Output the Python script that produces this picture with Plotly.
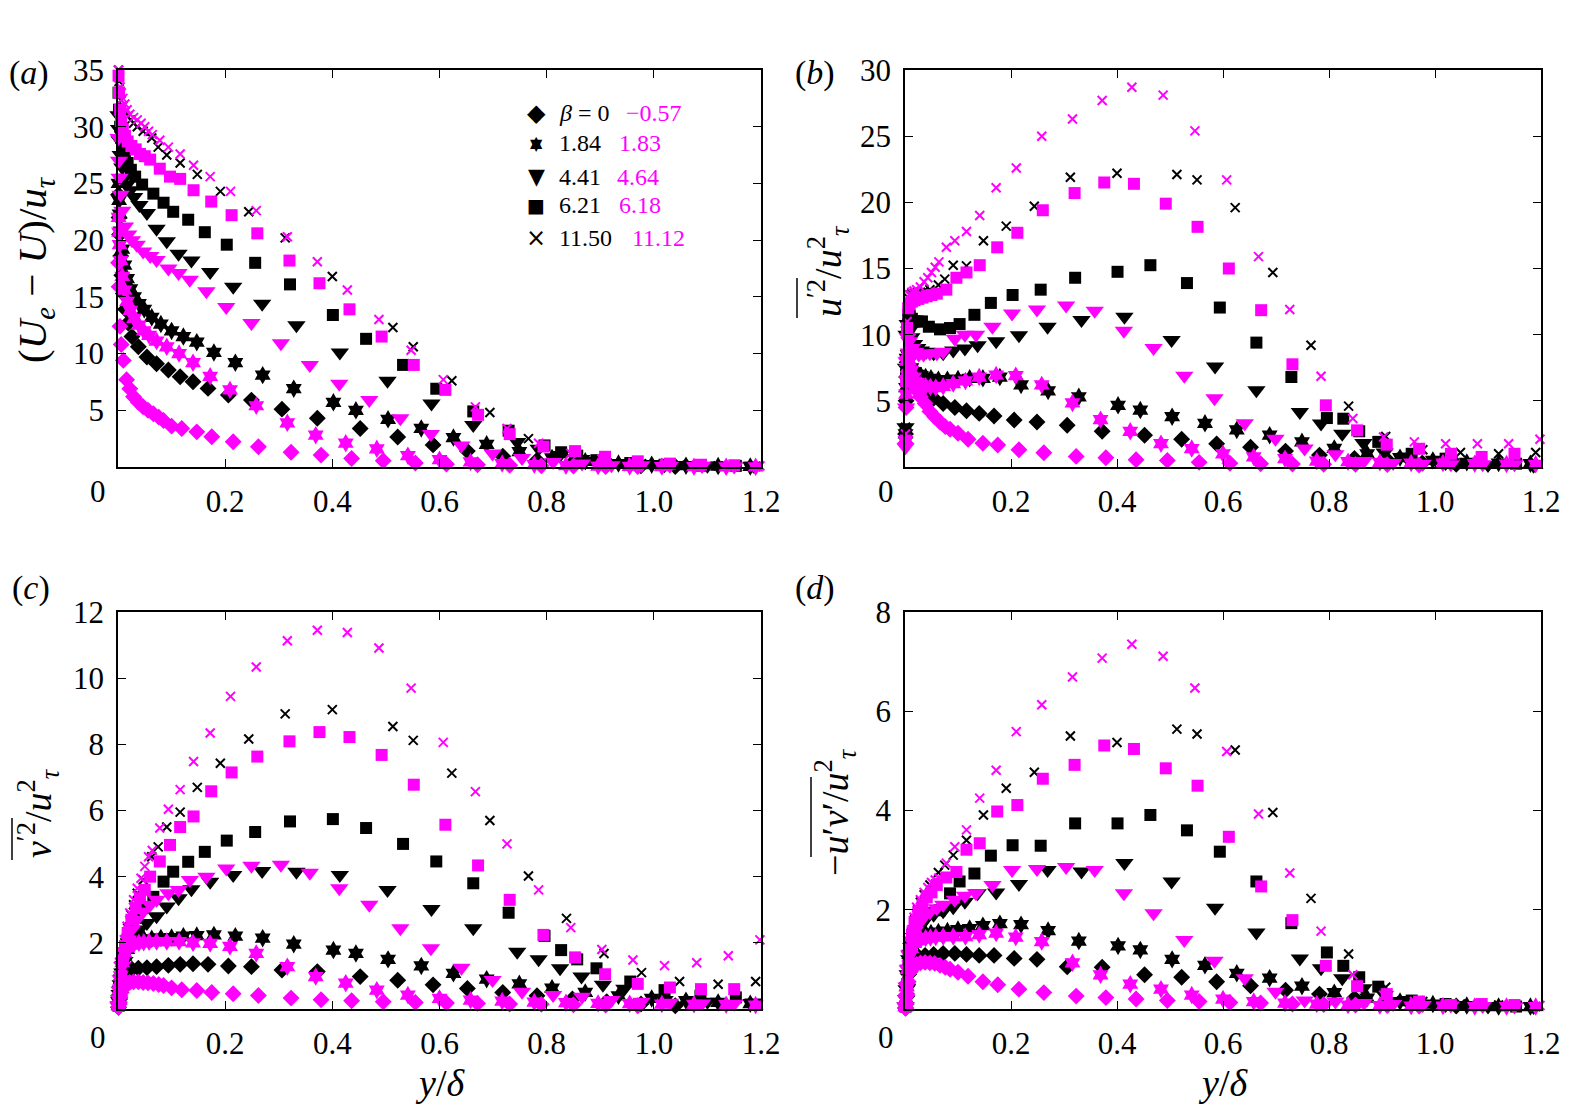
import plotly.graph_objects as go

W, H = 1572, 1105
BLACK = "#000000"
MAGENTA = "#ff00ff"
SERIF = "Liberation Serif"

# ---- data: y/delta positions and profiles, one set per case ----
# black diamond, beta = 0
K0_x = [0.001, 0.002, 0.003, 0.005, 0.007, 0.010, 0.014, 0.019, 0.026, 0.038,
        0.054, 0.072, 0.094, 0.116, 0.140, 0.168, 0.206, 0.249, 0.306, 0.372,
        0.452, 0.522, 0.588, 0.652, 0.718, 0.782, 0.848, 0.912, 0.976, 1.04]
K0_a = [24.0, 22.0, 20.5, 18.6, 16.9, 15.3, 13.9, 12.7, 11.5, 10.6,
        9.7, 9.1, 8.55, 7.96, 7.52, 6.93, 6.35, 5.9, 5.1, 4.3,
        3.4, 2.65, 1.95, 1.4, 0.95, 0.6, 0.35, 0.2, 0.1, 0.05]
K0_b = [2.5, 5.0, 6.8, 7.6, 7.3, 6.8, 6.3, 6.0, 5.7, 5.4,
        5.2, 4.8, 4.5, 4.25, 4.05, 3.85, 3.55, 3.4, 3.15, 2.7,
        2.4, 2.1, 1.75, 1.5, 1.2, 0.9, 0.65, 0.45, 0.3, 0.2]
K0_c = [0.05, 0.15, 0.3, 0.55, 0.75, 0.9, 1.05, 1.15, 1.2, 1.23,
        1.25, 1.28, 1.32, 1.35, 1.37, 1.35, 1.3, 1.28, 1.18, 1.13,
        0.98, 0.87, 0.73, 0.62, 0.5, 0.4, 0.3, 0.22, 0.15, 0.1]
K0_d = [0.02, 0.1, 0.25, 0.5, 0.7, 0.85, 0.95, 1.0, 1.05, 1.08,
        1.1, 1.12, 1.12, 1.1, 1.08, 1.08, 1.02, 1.0, 0.85, 0.84,
        0.69, 0.64, 0.55, 0.47, 0.38, 0.3, 0.22, 0.15, 0.1, 0.06]

# magenta diamond, beta = -0.57
M0_x = [0.001, 0.002, 0.0037, 0.006, 0.010, 0.016, 0.022, 0.029, 0.038, 0.047,
        0.056, 0.066, 0.076, 0.085, 0.100, 0.119, 0.147, 0.175, 0.215, 0.262,
        0.323, 0.379, 0.436, 0.495, 0.555, 0.613, 0.671, 0.731, 0.79, 0.85,
        0.91, 0.97]
M0_a = [18.0, 15.9, 12.4, 10.8, 9.4, 7.7, 6.9, 6.2, 5.7, 5.3,
        5.0, 4.7, 4.4, 4.1, 3.6, 3.4, 3.1, 2.67, 2.23, 1.79,
        1.3, 1.05, 0.75, 0.55, 0.35, 0.25, 0.2, 0.15, 0.1, 0.08,
        0.05, 0.03]
M0_b = [1.8, 4.5, 6.8, 7.2, 6.8, 6.2, 5.8, 5.3, 4.8, 4.2,
        3.8, 3.4, 3.05, 2.85, 2.55, 2.1, 1.8, 1.66, 1.3, 1.08,
        0.8, 0.7, 0.55, 0.5, 0.35, 0.28, 0.25, 0.22, 0.2, 0.2,
        0.18, 0.15]
M0_c = [0.05, 0.15, 0.35, 0.5, 0.65, 0.75, 0.8, 0.82, 0.82, 0.8,
        0.79, 0.77, 0.74, 0.71, 0.64, 0.58, 0.56, 0.5, 0.46, 0.41,
        0.33, 0.28, 0.25, 0.22, 0.2, 0.18, 0.17, 0.15, 0.14, 0.13,
        0.12, 0.1]
M0_d = [0.02, 0.1, 0.3, 0.55, 0.75, 0.85, 0.9, 0.93, 0.94, 0.93,
        0.92, 0.88, 0.84, 0.8, 0.74, 0.66, 0.55, 0.49, 0.4, 0.33,
        0.26, 0.23, 0.2, 0.17, 0.15, 0.13, 0.12, 0.1, 0.09, 0.08,
        0.07, 0.06]

# black hexagram, beta = 1.84
K1_x = [0.001, 0.002, 0.003, 0.005, 0.008, 0.012, 0.017, 0.023, 0.030, 0.039,
        0.049, 0.063, 0.080, 0.100, 0.122, 0.147, 0.179, 0.219, 0.270, 0.328,
        0.402, 0.444, 0.504, 0.566, 0.626, 0.688, 0.749, 0.81, 0.872, 0.934,
        0.996, 1.06, 1.12, 1.18]
K1_a = [25.0, 23.5, 22.3, 20.8, 19.2, 17.8, 16.6, 15.7, 15.0, 14.4,
        13.9, 13.2, 12.6, 12.0, 11.5, 11.0, 10.1, 9.2, 8.1, 6.9,
        5.7, 5.0, 4.2, 3.4, 2.6, 2.0, 1.35, 0.8, 0.5, 0.3,
        0.2, 0.12, 0.08, 0.05]
K1_b = [2.5, 6.0, 8.2, 8.5, 8.0, 7.5, 7.2, 7.0, 6.9, 6.8,
        6.7, 6.6, 6.6, 6.65, 6.7, 6.7, 6.8, 6.2, 5.75, 5.3,
        4.66, 4.3, 3.8, 3.3, 2.8, 2.4, 1.9, 1.4, 1.0, 0.7,
        0.5, 0.35, 0.3, 0.25]
K1_c = [0.1, 0.3, 0.55, 0.9, 1.3, 1.6, 1.8, 1.95, 2.03, 2.08,
        2.1, 2.12, 2.15, 2.16, 2.2, 2.22, 2.24, 2.2, 2.14, 1.96,
        1.78, 1.68, 1.5, 1.3, 1.08, 0.9, 0.76, 0.63, 0.5, 0.4,
        0.32, 0.25, 0.2, 0.16]
K1_d = [0.05, 0.2, 0.45, 0.8, 1.1, 1.3, 1.42, 1.48, 1.5, 1.52,
        1.53, 1.55, 1.57, 1.6, 1.62, 1.68, 1.72, 1.7, 1.58, 1.37,
        1.27, 1.19, 1.0, 0.88, 0.72, 0.62, 0.46, 0.33, 0.22, 0.15,
        0.1, 0.07, 0.05, 0.05]

# magenta hexagram, beta = 1.83
M1_x = [0.001, 0.002, 0.003, 0.005, 0.008, 0.012, 0.017, 0.023, 0.030, 0.039,
        0.048, 0.058, 0.072, 0.091, 0.114, 0.140, 0.172, 0.209, 0.258, 0.316,
        0.369, 0.425, 0.483, 0.541, 0.600, 0.658, 0.717, 0.777, 0.836, 0.896,
        0.955, 1.015, 1.075, 1.135, 1.19]
M1_a = [22.0, 20.7, 19.6, 18.2, 16.8, 15.6, 14.6, 13.8, 13.1, 12.5,
        12.0, 11.6, 11.1, 10.6, 10.0, 9.2, 8.0, 6.8, 5.4, 3.9,
        2.8, 2.1, 1.6, 1.0, 0.65, 0.45, 0.3, 0.2, 0.12, 0.08,
        0.05, 0.04, 0.03, 0.02, 0.02]
M1_b = [2.0, 5.5, 8.0, 8.6, 8.0, 7.3, 6.8, 6.4, 6.2, 6.1,
        6.05, 6.0, 6.1, 6.3, 6.5, 6.8, 6.95, 6.9, 6.2, 4.84,
        3.58, 2.7, 1.76, 1.39, 1.0, 0.76, 0.63, 0.45, 0.4, 0.35,
        0.3, 0.3, 0.25, 0.22, 0.2]
M1_c = [0.1, 0.3, 0.6, 1.0, 1.4, 1.7, 1.85, 1.93, 1.97, 2.0,
        2.02, 2.03, 2.04, 2.04, 2.04, 2.0, 1.98, 1.89, 1.68, 1.28,
        0.98, 0.78, 0.57, 0.42, 0.32, 0.27, 0.24, 0.21, 0.19, 0.17,
        0.16, 0.15, 0.14, 0.13, 0.12]
M1_d = [0.05, 0.2, 0.45, 0.8, 1.05, 1.22, 1.32, 1.38, 1.41, 1.43,
        1.44, 1.45, 1.46, 1.46, 1.46, 1.5, 1.53, 1.45, 1.36, 0.93,
        0.69, 0.5, 0.4, 0.28, 0.2, 0.15, 0.12, 0.1, 0.08, 0.07,
        0.06, 0.06, 0.05, 0.05, 0.05]

# black triangle, beta = 4.41
K2_x = [0.001, 0.002, 0.003, 0.005, 0.008, 0.012, 0.017, 0.023, 0.030, 0.040,
        0.054, 0.072, 0.091, 0.113, 0.137, 0.172, 0.215, 0.269, 0.333, 0.414,
        0.503, 0.585, 0.663, 0.745, 0.785, 0.825, 0.865, 0.905, 0.945, 1.02,
        1.10, 1.186]
K2_a = [31.0, 29.8, 28.8, 27.5, 26.4, 25.5, 24.9, 24.4, 23.8, 23.1,
        22.4, 21.0, 19.9, 18.8, 18.2, 17.2, 15.9, 14.4, 12.5, 10.1,
        7.6, 5.6, 3.7, 2.2, 1.6, 1.05, 0.7, 0.45, 0.3, 0.15,
        0.12, 0.1]
K2_b = [3.0, 7.5, 10.0, 10.8, 10.3, 9.8, 9.3, 9.0, 8.8, 8.7,
        8.6, 8.6, 8.8, 8.95, 9.2, 9.5, 9.96, 10.6, 11.1, 11.35,
        9.6, 7.6, 5.8, 4.16, 3.28, 2.52, 1.82, 1.1, 0.8, 0.3,
        0.15, 0.1]
K2_c = [0.1, 0.25, 0.45, 0.75, 1.1, 1.45, 1.75, 2.0, 2.2, 2.4,
        2.6, 2.8, 3.1, 3.35, 3.62, 3.85, 4.05, 4.17, 4.15, 4.05,
        3.6, 3.02, 2.44, 1.73, 1.5, 1.23, 0.98, 0.73, 0.61, 0.27,
        0.22, 0.2]
K2_d = [0.05, 0.2, 0.4, 0.7, 1.0, 1.25, 1.45, 1.6, 1.72, 1.82,
        1.9, 1.97, 2.05, 2.16, 2.33, 2.35, 2.52, 2.8, 2.77, 2.94,
        2.57, 2.04, 1.54, 1.02, 0.82, 0.62, 0.42, 0.28, 0.18, 0.08,
        0.05, 0.04]

# magenta triangle, beta = 4.64
M2_x = [0.001, 0.002, 0.003, 0.005, 0.008, 0.013, 0.019, 0.026, 0.035, 0.047,
        0.060, 0.072, 0.094, 0.113, 0.134, 0.165, 0.202, 0.249, 0.304, 0.358,
        0.413, 0.469, 0.527, 0.584, 0.641, 0.699, 0.754, 0.812, 0.866, 0.921,
        0.977, 1.03, 1.09, 1.15]
M2_a = [29.0, 27.0, 25.5, 24.0, 22.6, 21.2, 20.5, 20.0, 19.6, 19.0,
        18.6, 18.25, 17.5, 17.1, 16.5, 15.5, 14.1, 12.7, 10.9, 9.0,
        7.35, 5.9, 4.3, 2.9, 1.9, 1.2, 0.8, 0.45, 0.3, 0.15,
        0.15, 0.1, 0.08, 0.05]
M2_b = [1.5, 4.5, 8.0, 9.8, 9.5, 9.0, 8.7, 8.5, 8.5, 8.6,
        8.6, 8.7, 9.7, 10.0, 10.0, 10.6, 11.6, 11.9, 12.2, 11.8,
        10.3, 9.0, 6.9, 5.2, 3.3, 2.14, 1.4, 0.96, 0.45, 0.3,
        0.25, 0.2, 0.2, 0.2]
M2_c = [0.1, 0.3, 0.55, 0.9, 1.3, 1.75, 2.1, 2.4, 2.7, 2.95,
        3.15, 3.3, 3.5, 3.6, 3.9, 4.0, 4.25, 4.33, 4.36, 4.12,
        3.65, 3.15, 2.44, 1.84, 1.25, 0.88, 0.52, 0.42, 0.37, 0.27,
        0.22, 0.19, 0.17, 0.16]
M2_d = [0.05, 0.2, 0.45, 0.8, 1.1, 1.38, 1.58, 1.72, 1.85, 1.95,
        2.03, 2.1, 2.2, 2.28, 2.33, 2.5, 2.8, 2.82, 2.86, 2.8,
        2.33, 1.93, 1.39, 0.97, 0.62, 0.35, 0.17, 0.15, 0.12, 0.1,
        0.08, 0.07, 0.06, 0.05]

# black square, beta = 6.21
K3_x = [0.001, 0.002, 0.004, 0.006, 0.009, 0.013, 0.018, 0.024, 0.032, 0.045,
        0.066, 0.085, 0.103, 0.131, 0.162, 0.203, 0.256, 0.321, 0.401, 0.463,
        0.532, 0.594, 0.663, 0.729, 0.796, 0.827, 0.857, 0.893, 0.956, 1.02,
        1.087, 1.153]
K3_a = [33.0, 31.5, 30.0, 29.0, 28.2, 27.5, 26.8, 26.2, 25.6, 24.9,
        24.1, 23.3, 22.5, 21.8, 20.7, 19.6, 18.0, 16.1, 13.4, 11.3,
        9.0, 6.9, 4.9, 3.2, 1.9, 1.3, 1.0, 0.6, 0.35, 0.2,
        0.12, 0.1]
K3_b = [2.5, 7.0, 10.5, 11.5, 11.4, 11.2, 11.0, 11.0, 11.0, 10.6,
        10.4, 10.5, 10.8, 11.5, 12.4, 13.0, 13.4, 14.3, 14.75, 15.25,
        13.9, 12.05, 9.4, 6.8, 3.7, 3.65, 2.7, 1.9, 1.0, 0.63,
        0.4, 0.25]
K3_c = [0.1, 0.3, 0.6, 0.95, 1.35, 1.75, 2.1, 2.45, 2.75, 3.05,
        3.39, 3.85, 4.15, 4.45, 4.75, 5.09, 5.35, 5.67, 5.74, 5.47,
        4.99, 4.46, 3.8, 2.91, 2.21, 1.78, 1.5, 1.23, 0.83, 0.57,
        0.4, 0.35]
K3_d = [0.05, 0.2, 0.5, 0.8, 1.1, 1.35, 1.55, 1.7, 1.82, 1.93,
        1.99, 2.33, 2.57, 2.73, 3.09, 3.3, 3.29, 3.74, 3.74, 3.91,
        3.6, 3.17, 2.57, 1.73, 1.14, 0.87, 0.64, 0.45, 0.17, 0.1,
        0.08, 0.05]

# magenta square, beta = 6.18
M3_x = [0.001, 0.002, 0.004, 0.006, 0.009, 0.013, 0.018, 0.025, 0.033, 0.041,
        0.050, 0.060, 0.078, 0.097, 0.116, 0.141, 0.174, 0.212, 0.260, 0.32,
        0.376, 0.432, 0.492, 0.552, 0.611, 0.672, 0.731, 0.794, 0.853, 0.909,
        0.97, 1.03, 1.088, 1.15]
M3_a = [34.5, 33.0, 31.5, 30.5, 29.8, 29.2, 28.7, 28.3, 28.0, 27.6,
        27.4, 27.1, 26.3, 25.6, 25.4, 24.4, 23.4, 22.2, 20.6, 18.2,
        16.2, 13.9, 11.5, 9.0, 6.8, 4.6, 2.9, 1.8, 1.4, 0.9,
        0.5, 0.3, 0.2, 0.15]
M3_b = [2.0, 6.5, 10.5, 12.0, 12.3, 12.5, 12.6, 12.7, 12.8, 12.9,
        13.0, 13.1, 13.4, 14.3, 14.7, 15.25, 16.6, 17.7, 19.4, 20.7,
        21.5, 21.4, 19.9, 18.15, 15.0, 11.85, 7.76, 4.66, 2.77, 1.69,
        1.38, 1.0, 0.76, 1.0]
M3_c = [0.1, 0.3, 0.65, 1.0, 1.45, 1.9, 2.3, 2.7, 3.05, 3.35,
        3.6, 4.0, 4.46, 4.96, 5.5, 5.82, 6.58, 7.15, 7.63, 8.09,
        8.37, 8.22, 7.68, 6.78, 5.57, 4.34, 3.3, 2.24, 1.56, 1.05,
        0.76, 0.65, 0.6, 0.6]
M3_d = [0.05, 0.2, 0.5, 0.85, 1.2, 1.5, 1.75, 1.95, 2.1, 2.25,
        2.35, 2.5, 2.65, 2.76, 3.21, 3.34, 3.98, 4.11, 4.64, 4.92,
        5.31, 5.24, 4.85, 4.5, 3.47, 2.47, 1.79, 0.87, 0.46, 0.3,
        0.15, 0.08, 0.1, 0.08]

# black cross, beta = 11.50
K4_x = [0.001, 0.002, 0.004, 0.006, 0.009, 0.013, 0.018, 0.024, 0.029, 0.036,
        0.047, 0.063, 0.075, 0.091, 0.116, 0.148, 0.191, 0.244, 0.312, 0.40,
        0.513, 0.551, 0.623, 0.694, 0.766, 0.837, 0.907, 0.977, 1.048, 1.12,
        1.19]
K4_a = [35.0, 34.0, 33.0, 32.3, 31.8, 31.3, 30.9, 30.6, 30.3, 30.0,
        29.6, 29.0, 28.2, 27.5, 26.8, 25.8, 24.3, 22.5, 20.2, 16.8,
        12.3, 10.6, 7.6, 4.8, 2.5, 1.2, 0.6, 0.3, 0.15, 0.1,
        0.05]
K4_b = [3.0, 8.0, 11.5, 12.8, 13.0, 13.1, 13.1, 13.2, 13.2, 13.3,
        13.4, 13.75, 14.2, 15.25, 15.2, 17.1, 18.2, 19.7, 21.9, 22.2,
        22.1, 21.7, 19.6, 14.7, 9.2, 4.6, 2.3, 1.3, 1.1, 1.0,
        1.1]
K4_c = [0.1, 0.35, 0.7, 1.1, 1.55, 2.0, 2.45, 2.85, 3.15, 3.5,
        3.9, 4.6, 4.9, 5.5, 5.95, 6.7, 7.43, 8.16, 8.92, 9.05,
        8.54, 8.12, 7.13, 5.7, 4.02, 2.74, 1.68, 1.1, 0.83, 0.75,
        0.83]
K4_d = [0.05, 0.25, 0.55, 0.9, 1.25, 1.55, 1.8, 2.0, 2.15, 2.3,
        2.5, 2.75, 2.9, 3.1, 3.4, 3.91, 4.45, 4.77, 5.5, 5.37,
        5.64, 5.54, 5.22, 3.96, 2.23, 1.11, 0.44, 0.15, 0.1, 0.08,
        0.05]

# magenta cross, beta = 11.12
M4_x = [0.001, 0.002, 0.004, 0.006, 0.009, 0.013, 0.017, 0.022, 0.029, 0.036,
        0.043, 0.05, 0.057, 0.064, 0.078, 0.094, 0.116, 0.141, 0.172, 0.21,
        0.258, 0.316, 0.372, 0.428, 0.487, 0.547, 0.607, 0.667, 0.726, 0.785,
        0.845, 0.903, 0.961, 1.02, 1.08, 1.139, 1.198]
M4_a = [35.0, 34.3, 33.5, 33.0, 32.5, 32.0, 31.5, 31.1, 30.8, 30.6,
        30.3, 30.0, 29.6, 29.3, 28.8, 28.2, 27.6, 26.6, 25.6, 24.3,
        22.6, 20.3, 18.1, 15.6, 13.0, 10.3, 7.7, 5.3, 3.4, 2.1,
        1.2, 0.7, 0.4, 0.25, 0.15, 0.12, 0.1]
M4_b = [2.5, 7.0, 11.0, 12.5, 13.0, 13.2, 13.3, 13.4, 13.6, 14.0,
        14.3, 14.7, 15.1, 15.5, 16.6, 17.1, 17.8, 19.0, 21.1, 22.6,
        25.0, 26.3, 27.7, 28.7, 28.1, 25.4, 21.7, 15.9, 11.9, 6.86,
        3.66, 2.27, 1.9, 1.76, 1.76, 1.76, 2.1]
M4_c = [0.1, 0.35, 0.75, 1.2, 1.65, 2.1, 2.5, 2.9, 3.3, 3.65,
        3.95, 4.31, 4.6, 4.79, 5.47, 6.04, 6.63, 7.48, 8.34, 9.45,
        10.34, 11.13, 11.45, 11.38, 10.91, 9.70, 8.06, 6.57, 4.99, 3.6,
        2.46, 1.8, 1.48, 1.31, 1.4, 1.61, 2.09]
M4_d = [0.05, 0.25, 0.6, 0.95, 1.3, 1.6, 1.85, 2.05, 2.2, 2.35,
        2.45, 2.55, 2.6, 2.64, 2.94, 3.27, 3.61, 4.25, 4.81, 5.59,
        6.13, 6.69, 7.07, 7.35, 7.11, 6.47, 5.19, 3.93, 2.74, 1.57,
        0.69, 0.28, 0.15, 0.1, 0.08, 0.07, 0.07]

# legend entries (beta values)
beta_black = ["<i>β</i> = 0", "1.84", "4.41", "6.21", "11.50"]
beta_magenta = ["−0.57", "1.83", "4.64", "6.18", "11.12"]

x_ticks = [0.2, 0.4, 0.6, 0.8, 1.0, 1.2]
x_ticktext = ["0.2", "0.4", "0.6", "0.8", "1.0", "1.2"]
y_ticks_a = [5, 10, 15, 20, 25, 30, 35]
y_ticks_b = [5, 10, 15, 20, 25, 30]
y_ticks_c = [2, 4, 6, 8, 10, 12]
y_ticks_d = [2, 4, 6, 8]

# ---- figure ----
# marker style per shape: (plotly symbol, size)
SHAPES = {
    "diamond": ("diamond", 13),
    "hexagram": ("hexagram", 14),
    "triangle": ("triangle-down", 16),
    "square": ("square", 12),
    "cross": ("x-thin", 9),
}

# black first, magenta on top
series = [
    (K0_x, [K0_a, K0_b, K0_c, K0_d], "diamond", BLACK),
    (K1_x, [K1_a, K1_b, K1_c, K1_d], "hexagram", BLACK),
    (K2_x, [K2_a, K2_b, K2_c, K2_d], "triangle", BLACK),
    (K3_x, [K3_a, K3_b, K3_c, K3_d], "square", BLACK),
    (K4_x, [K4_a, K4_b, K4_c, K4_d], "cross", BLACK),
    (M0_x, [M0_a, M0_b, M0_c, M0_d], "diamond", MAGENTA),
    (M1_x, [M1_a, M1_b, M1_c, M1_d], "hexagram", MAGENTA),
    (M2_x, [M2_a, M2_b, M2_c, M2_d], "triangle", MAGENTA),
    (M3_x, [M3_a, M3_b, M3_c, M3_d], "square", MAGENTA),
    (M4_x, [M4_a, M4_b, M4_c, M4_d], "cross", MAGENTA),
]

axis_ids = [("x", "y"), ("x2", "y2"), ("x3", "y3"), ("x4", "y4")]

fig = go.Figure()
for xs, panels, shape, color in series:
    symbol, size = SHAPES[shape]
    for (xa, ya), ys in zip(axis_ids, panels):
        assert len(xs) == len(ys), (shape, color, len(xs), len(ys))
        if shape == "cross":
            marker = dict(symbol=symbol, size=size, color=color,
                          line=dict(color=color, width=2))
        else:
            marker = dict(symbol=symbol, size=size, color=color,
                          line=dict(width=0))
        fig.add_trace(go.Scatter(x=xs, y=ys, mode="markers", marker=marker,
                                 xaxis=xa, yaxis=ya, cliponaxis=False,
                                 showlegend=False, hoverinfo="skip"))


def px_x(px):
    return px / W


def px_y(py):
    return 1 - py / H


AXIS_STYLE = dict(showline=True, linecolor="black", linewidth=1.5,
                  mirror="ticks", ticks="inside", ticklen=8, tickwidth=1.3,
                  tickcolor="black", showgrid=False, zeroline=False,
                  automargin=False, ticklabelstandoff=6,
                  tickfont=dict(family=SERIF, size=31, color="black"))


def xaxis(left, right, anchor):
    return dict(domain=[px_x(left), px_x(right)], range=[0, 1.2],
                anchor=anchor, tickvals=x_ticks, ticktext=x_ticktext,
                **AXIS_STYLE)


def yaxis(top_px, bottom_px, ymax, ticks, anchor):
    return dict(domain=[px_y(bottom_px), px_y(top_px)], range=[0, ymax],
                anchor=anchor, tickvals=ticks, **AXIS_STYLE)


L1, R1, L2, R2 = 118, 761, 905, 1541
T1, B1, T2, B2 = 70, 467, 612, 1009

annotations = []


def note(text, px, py, size=31, color="black", angle=0, xanchor="center",
         family=SERIF):
    annotations.append(dict(text=text, x=px_x(px), y=px_y(py), xref="paper",
                            yref="paper", showarrow=False, textangle=angle,
                            xanchor=xanchor, yanchor="middle",
                            font=dict(family=family, size=size, color=color)))


# panel letters
note("(<i>a</i>)", 29, 73, size=34)
note("(<i>b</i>)", 815, 73, size=34)
note("(<i>c</i>)", 31, 588, size=34)
note("(<i>d</i>)", 815, 588, size=34)

# lone "0" x tick labels, set left of the axis corner
for px, py in [(98, 492), (886, 492), (98, 1037), (886, 1037)]:
    note("0", px, py)

# axis titles
note("(<i>U</i><sub><i>e</i></sub> − <i>U</i>)/<i>u</i><sub><i>τ</i></sub>",
     35, 270, size=41, angle=-90)
note("<i>u</i><sup>′2</sup>/<i>u</i><sup>2</sup><sub><i>τ</i></sub>",
     828, 271, size=38, angle=-90)
note("<i>v</i><sup>′2</sup>/<i>u</i><sup>2</sup><sub><i>τ</i></sub>",
     38, 813, size=38, angle=-90)
note("−<i>u</i>′<i>v</i>′/<i>u</i><sup>2</sup><sub><i>τ</i></sub>",
     835, 812, size=38, angle=-90)
note("<i>y</i>/<i>δ</i>", 440, 1083, size=38)
note("<i>y</i>/<i>δ</i>", 1223, 1083, size=38)

# legend in panel (a); the star is an up and a down triangle whose
# centroids coincide, so the down one sits a little lower
legend_rows = [113, 143, 177, 205, 238]
legend_glyphs = [[("◆", 0)], [("▲", -1.8), ("▼", 1.8)], [("▼", 0)],
                 [("■", 0)], [("×", 0)]]
legend_sizes = [24, 16, 22, 19, 24]
magenta_left = [624, 617, 615, 617, 630]
for glyphs, gsize, row, kb, mb, mleft in zip(legend_glyphs, legend_sizes,
                                             legend_rows, beta_black,
                                             beta_magenta, magenta_left):
    for glyph, dy in glyphs:
        note(glyph, 536, row + dy, size=gsize, family="DejaVu Sans")
    note(kb, 557, row, size=24, xanchor="left")
    note(mb, mleft, row, size=24, color=MAGENTA, xanchor="left")

# overbars on the averaged quantities
overbars = [(797, 278, 318), (12, 818, 860), (811, 777, 857)]
shapes = [dict(type="line", xref="paper", yref="paper",
               x0=px_x(px), x1=px_x(px), y0=px_y(y0), y1=px_y(y1),
               line=dict(color="black", width=1.5))
          for px, y0, y1 in overbars]

fig.update_layout(
    width=W, height=H,
    margin=dict(l=0, r=0, t=0, b=0, pad=0, autoexpand=False),
    paper_bgcolor="white", plot_bgcolor="white",
    showlegend=False,
    xaxis=xaxis(L1, R1, "y"),
    yaxis=yaxis(T1, B1, 35, y_ticks_a, "x"),
    xaxis2=xaxis(L2, R2, "y2"),
    yaxis2=yaxis(T1, B1, 30, y_ticks_b, "x2"),
    xaxis3=xaxis(L1, R1, "y3"),
    yaxis3=yaxis(T2, B2, 12, y_ticks_c, "x3"),
    xaxis4=xaxis(L2, R2, "y4"),
    yaxis4=yaxis(T2, B2, 8, y_ticks_d, "x4"),
    annotations=annotations,
    shapes=shapes,
)

fig.write_html("out.html", config={"displayModeBar": False},
               post_script="document.body.style.margin='0';")
